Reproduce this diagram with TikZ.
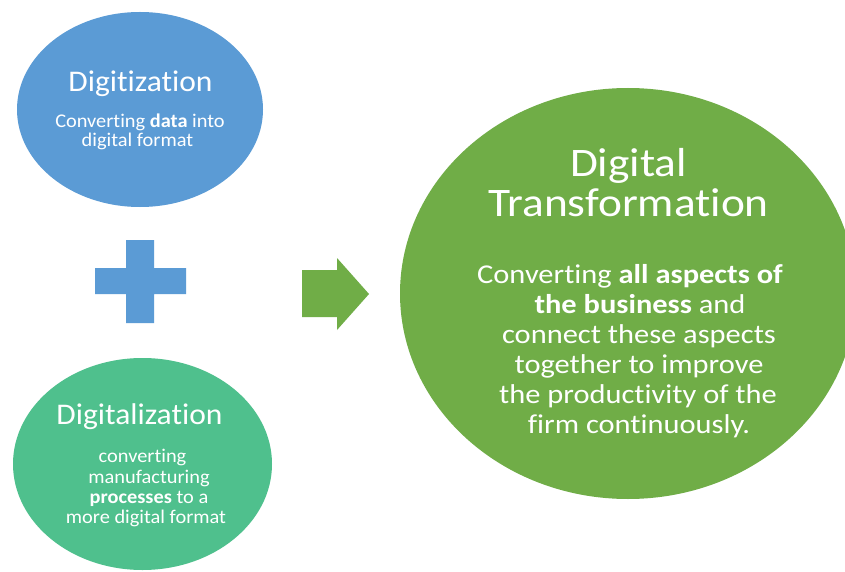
\documentclass[tikz,border=0pt]{standalone}
\usepackage{fontspec}
\usetikzlibrary{shapes.geometric}
% Carlito, slightly widened, with its ligatures switched off
\defaultfontfeatures{Ligatures={NoCommon,NoContextual,NoRequired}}
\newfontfamily\leftfont{Carlito}[FakeStretch=1.05, RawFeature={-liga;-clig;-dlig}]
\newfontfamily\rightfont{Carlito}[FakeStretch=1.12, RawFeature={-liga;-clig;-dlig}]
\definecolor{blueblob}{HTML}{5B9BD5}
\definecolor{tealblob}{HTML}{4FC08D}
\definecolor{greenblob}{HTML}{70AD47}
\tikzset{
  blob/.style={ellipse, draw=none, inner sep=0pt},
  line/.style={anchor=base, text=white, inner sep=0pt},
  lhead/.style={line, font=\leftfont\fontsize{30}{31}\selectfont},
  lbody/.style={line, font=\leftfont\fontsize{19.4}{20}\selectfont},
  rhead/.style={line, font=\rightfont\fontsize{40.5}{41}\selectfont},
  rbody/.style={line, font=\rightfont\fontsize{27.2}{30}\selectfont},
}
\begin{document}
\begin{tikzpicture}[x=1pt, y=-1pt]
  \useasboundingbox (0,0) rectangle (845,572);
  \fill[white] (0,0) rectangle (845,572);
  \clip (0,0) rectangle (845,572);

  % the three circles
  \node[blob, fill=blueblob, minimum width=246pt, minimum height=195pt] (digitization) at (140,109.5) {};
  \node[blob, fill=tealblob, minimum width=259pt, minimum height=212pt] (digitalization) at (142.5,464) {};
  \node[blob, fill=greenblob, minimum width=456pt, minimum height=411pt] (transformation) at (628,293.5) {};

  % plus sign
  \fill[blueblob] (126,240) -- (154,240) -- (154,268) -- (186,268) -- (186,294)
    -- (154,294) -- (154,323) -- (126,323) -- (126,294) -- (95,294)
    -- (95,268) -- (126,268) -- cycle;

  % block arrow
  \fill[greenblob] (302,270) -- (337,270) -- (337,258) -- (369,294)
    -- (337,330) -- (337,317) -- (302,317) -- cycle;

  % Digitization
  \node[lhead] (a0) at (140.5,92) {Digitization};
  \node[lbody] (a1) at (140,128) {Converting \textbf{data} into};
  \node[lbody] (a2) at (137.5,147) {digital format};

  % Digitalization
  \node[lhead] (b0) at (139.5,424) {Digitalization};
  \node[lbody] (b1) at (142.5,462) {converting};
  \node[lbody] (b2) at (149,483) {manufacturing};
  \node[lbody] (b3) at (149,503) {\textbf{processes} to a};
  \node[lbody] (b4) at (146,523) {more digital format};

  % Digital Transformation
  \node[rhead] (c0) at (628.5,177) {Digital};
  \node[rhead] (c1) at (628.5,216) {Transformation};
  \node[rbody] (c2) at (630,283) {Converting \textbf{all aspects of}};
  \node[rbody] (c3) at (640,313) {\textbf{the business} and};
  \node[rbody] (c4) at (639,343) {connect these aspects};
  \node[rbody] (c5) at (639,373) {together to improve};
  \node[rbody] (c6) at (638,403) {the productivity of the};
  \node[rbody] (c7) at (639,433) {firm continuously.};
\end{tikzpicture}
\end{document}
